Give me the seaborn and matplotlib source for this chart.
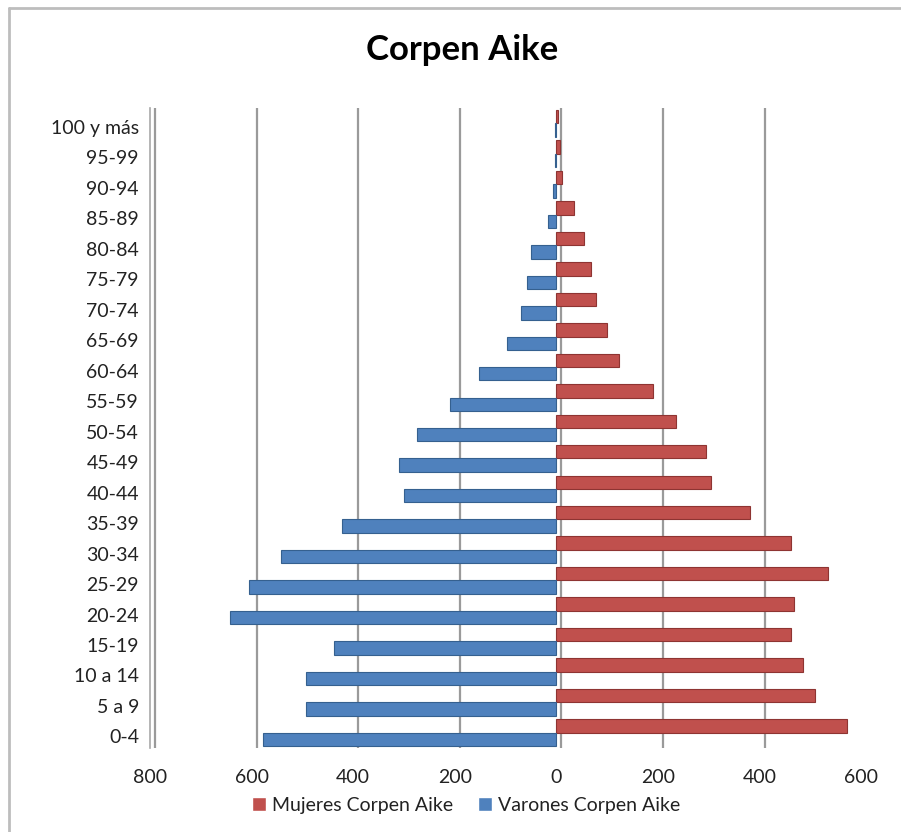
import numpy as np
import pandas as pd
import matplotlib
matplotlib.use("Agg")
import matplotlib.pyplot as plt
from matplotlib.ticker import FuncFormatter
from matplotlib.lines import Line2D
import seaborn as sns

# Data (bottom to top of pyramid)
age_groups = ["0-4", "5 a 9", "10 a 14", "15-19", "20-24", "25-29", "30-34",
              "35-39", "40-44", "45-49", "50-54", "55-59", "60-64", "65-69",
              "70-74", "75-79", "80-84", "85-89", "90-94", "95-99", "100 y más"]
mujeres = [573, 509, 486, 462, 469, 536, 462, 382, 305, 295, 236, 190,
           123, 100, 79, 69, 55, 34, 11, 8, 4]
varones = [577, 493, 493, 437, 642, 606, 542, 421, 299, 310, 274, 210,
           152, 97, 70, 58, 50, 17, 6, 3, 2]
series_names = ["Mujeres Corpen Aike", "Varones Corpen Aike"]
x_ticks = [-800, -600, -400, -200, 0, 200, 400, 600]

df = pd.DataFrame({
    "grupo": age_groups * 2,
    "valor": mujeres + [-v for v in varones],
    "serie": [series_names[0]] * len(age_groups) + [series_names[1]] * len(age_groups),
})

sns.set_theme(style="white")
plt.rcParams["font.family"] = ["Lato", "DejaVu Sans"]

fig = plt.figure(figsize=(9.01, 8.32), dpi=100)
ax = fig.add_axes([150 / 901, 1 - 748 / 832, (861 - 150) / 901, 640 / 832])

order = age_groups[::-1]
sns.barplot(data=df, x="valor", y="grupo", hue="serie", order=order,
            hue_order=series_names, palette=["#C0504D", "#4F81BD"],
            saturation=1, orient="h", dodge=True, width=0.88, ax=ax, legend=True)

for cont, ec in zip(ax.containers, ["#8E3432", "#35608F"]):
    for p in cont:
        p.set_edgecolor(ec)
        p.set_linewidth(0.8)

ax.set_xlim(-800, 600)
ax.set_ylim(len(order) - 0.5, -0.5)
ax.set_xticks(x_ticks)
ax.xaxis.set_major_formatter(FuncFormatter(lambda v, p: f"{abs(int(v))}"))
ax.set_yticks(np.arange(len(order)) + 0.12)
ax.set_yticklabels(order)
ax.set_xlabel("")
ax.set_ylabel("")

for xv in x_ticks:
    ax.axvline(xv + 10, color="#9a9a9a", lw=1.6, zorder=0)

for s in ["top", "right", "bottom"]:
    ax.spines[s].set_visible(False)
ax.spines["left"].set_color("#a8a8a8")
ax.spines["left"].set_linewidth(1.2)

ax.tick_params(axis="x", labelsize=14, colors="#222222", length=0, pad=15)
ax.tick_params(axis="y", labelsize=14, colors="#222222", length=0, pad=8)

leg = ax.get_legend()
handles, labels = ax.get_legend_handles_labels()
leg.remove()
fig.legend(handles, labels, loc="center", bbox_to_anchor=(466 / 901, 1 - 805 / 832),
           ncol=2, frameon=False, fontsize=14, handlelength=0.7, handleheight=0.7,
           handletextpad=0.3, columnspacing=1.3, labelcolor="#222222",
           borderpad=0.1)

fig.text(462 / 901, 1 - 50 / 832, "Corpen Aike", ha="center", va="center",
         fontsize=25, fontweight="bold", color="#000000")

# chart-area border (top and left edges visible in the reference)
fig.add_artist(Line2D([9 / 901, 1.0], [1 - 8 / 832, 1 - 8 / 832],
                      transform=fig.transFigure, color="#bdbdbd", lw=2))
fig.add_artist(Line2D([9 / 901, 9 / 901], [0.0, 1 - 8 / 832],
                      transform=fig.transFigure, color="#bdbdbd", lw=2))

fig.savefig("out.png", dpi=100)
